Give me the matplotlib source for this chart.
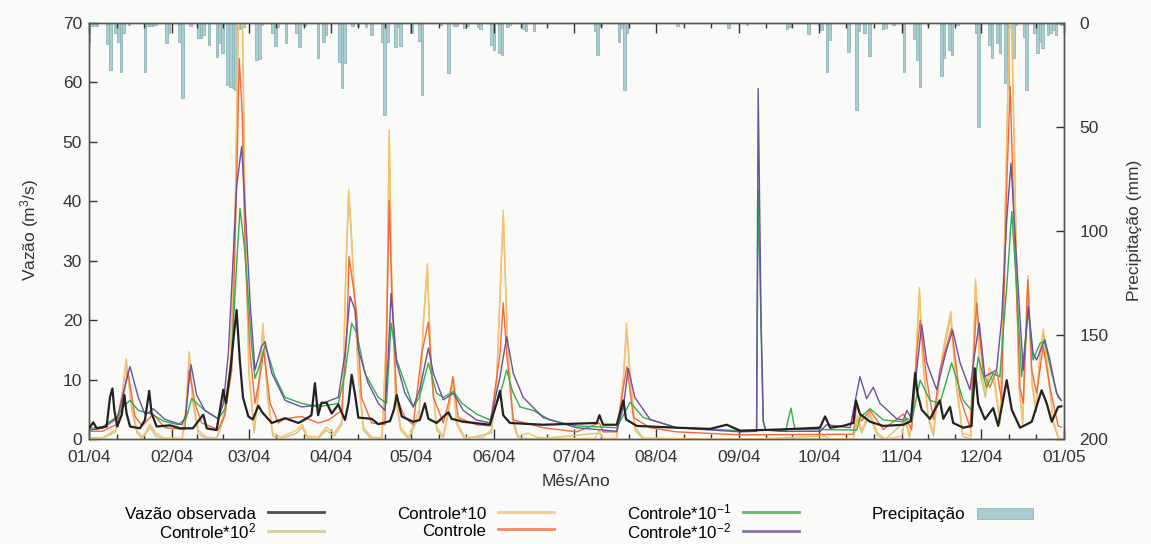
import matplotlib
matplotlib.use('Agg')
import matplotlib.pyplot as plt

plt.rcParams['font.family'] = ['Liberation Sans', 'DejaVu Sans']
plt.rcParams['mathtext.default'] = 'regular'

# Daily series for 2004, given as (day of year, value) points
obs = [(0, 1.8), (1.6, 2.8), (2.9, 1.8), (6.6, 2.1), (7.9, 7.1), (8.8, 8.5), (9.5, 4.9), (10.6, 2.1),
       (12.3, 4.1), (13.3, 7.4), (14.1, 4.3), (15.4, 2.1), (19.1, 1.8), (21, 3.2), (22.6, 8.1), (23.5, 4.3),
       (25.4, 2.1), (30.4, 2.3), (34.2, 1.8), (39, 1.8), (42.9, 4.1), (44.2, 1.8), (47.9, 1.5), (49.2, 5),
       (50.4, 8.3), (51.4, 6), (52.3, 9), (53.2, 12), (54.2, 16.7), (55.4, 21.7), (56.6, 13.3), (57.8, 7),
       (59.8, 3.8), (61.5, 3.3), (63.6, 5.6), (65, 4.5), (68.6, 2.7), (73.6, 3.5), (78.6, 2.7), (81.1, 3.3),
       (83.5, 4), (84.8, 9.4), (86, 4), (87.3, 6.1), (89.2, 6.1), (91.1, 4.3), (93.6, 5.8), (96.1, 3.2),
       (97.4, 6), (98.6, 10.8), (99.9, 7.4), (101.1, 3.6), (106.1, 3.4), (108.6, 2.5), (113, 3), (114.5, 5),
       (115.5, 7.4), (117.4, 3.8), (121.7, 2.9), (124.2, 3.2), (126.1, 6), (127.4, 3.4), (130.5, 2.7),
       (134.9, 4.5), (136.1, 3.4), (140.5, 2.9), (150.5, 2.4), (153, 6), (154.3, 8.1), (155.5, 4), (158, 2.7),
       (170.5, 2.4), (190.6, 2.7), (191.6, 4), (193, 2.4), (198.1, 2.4), (200.6, 6.5), (201.6, 3.3),
       (205.6, 2.2), (220.6, 1.9), (233.1, 1.7), (239.4, 2.4), (244.4, 1.4), (259.4, 1.6), (274.4, 1.9),
       (276.3, 3.8), (278.2, 1.9), (283.1, 2.2), (286.9, 2.7), (287.9, 6.5), (289.4, 4.2), (293.2, 2.9),
       (298.2, 2.2), (305.7, 2.4), (308.5, 3), (310.1, 11.1), (311, 7.7), (312.6, 4.9), (315.7, 3.4),
       (319.4, 6.5), (320.7, 3.4), (323.2, 5.4), (324.4, 2.7), (328.2, 1.9), (331.3, 2.2), (332.5, 11.9),
       (333.8, 6), (336.3, 3.3), (339.4, 5.2), (341.3, 2.2), (344.5, 9.9), (346.4, 4.9), (349.5, 1.9),
       (353.9, 2.9), (357.6, 8.2), (359.5, 6), (361.4, 2.9), (363.8, 5.4), (365, 5.5)]

c100 = [(0, 0.1), (5, 0.1), (10, 1.2), (12.5, 7.5), (14, 13), (16, 5), (18, 1), (20, 0.1), (23, 2), (25, 0.5),
        (28, 0), (35, 0), (36.5, 5), (37.6, 14), (39, 6), (41, 1), (44, 0), (48, 0), (51, 4), (53, 11), (55, 42),
        (56.3, 80), (57.5, 75), (58.5, 42), (60, 11), (62, 1), (63.5, 7), (65.3, 18.5), (67, 7), (69, 0.5),
        (72, 0), (78, 1), (80, 2), (82, 0.2), (86, 0), (89, 1.5), (92, 0.5), (95, 2.5), (96.5, 29), (97.5, 41),
        (98.5, 34), (99.5, 25), (101, 11), (103, 1.5), (106, 0), (110, 0), (111.8, 19), (112.7, 51),
        (113.5, 29), (115, 7), (117, 1.5), (120, 0), (124, 4), (125.5, 19), (127, 28.5), (128.5, 11),
        (130.5, 1.5), (133, 0.2), (135, 4.5), (136.6, 9.5), (138, 2.5), (141, 0), (151, 1), (153, 9),
        (155.5, 37.5), (157, 17), (159, 3), (161, 0.2), (168, 0), (191.6, 1), (193, 0), (198, 0), (200.5, 9),
        (201.8, 18.5), (203, 11), (205, 1.5), (208, 0), (287, 0), (288.5, 3.5), (290, 1), (293, 4), (296, 0.5),
        (299, 0), (306.5, 3), (308, 0.2), (309.5, 4.5), (311.7, 24.5), (313, 13), (315, 3.5), (317, 0.5),
        (319, 9), (321, 15), (323.5, 20.5), (325.5, 9), (328, 0.5), (331, 0), (332.8, 26), (334.5, 11),
        (336.5, 7), (338, 11), (340, 9), (342, 2.5), (343.5, 29), (345, 60), (346, 80), (347.5, 46), (349, 9),
        (350.5, 2.5), (352.5, 26.5), (354, 9), (355.5, 4.5), (357, 14), (358.3, 17.5), (360, 11), (362, 2.5),
        (364, 0), (365, 0)]

c10 = [(0, 0.3), (5, 0.2), (10, 1.5), (12.5, 8), (14, 13.5), (16, 6), (18, 1.5), (20, 0.3), (23, 2.5), (25, 1),
       (28, 0.2), (35, 0.1), (36.5, 6), (37.6, 14.7), (39, 7), (41, 1.5), (44, 0.3), (48, 0.2), (51, 5),
       (53, 12), (55, 40), (56.3, 75), (57.5, 72), (58.5, 40), (60, 12), (62, 2), (63.5, 8), (65.3, 19.5),
       (67, 8), (69, 1), (72, 0.3), (78, 1.5), (80, 2.5), (82, 0.5), (86, 0.3), (89, 2), (92, 1), (95, 3),
       (96.5, 30), (97.5, 42), (98.5, 35), (99.5, 26), (101, 12), (103, 2), (106, 0.3), (110, 0.2),
       (111.8, 20), (112.7, 52), (113.5, 30), (115, 8), (117, 2), (120, 0.3), (124, 5), (125.5, 20),
       (127, 29.5), (128.5, 12), (130.5, 2), (133, 0.5), (135, 5), (136.6, 10), (138, 3), (141, 0.3),
       (148, 0.3), (151, 1.5), (153, 10), (155.5, 38.5), (157, 18), (159, 4), (161, 0.5), (165, 1),
       (168, 0.3), (175, 0.1), (190, 0.1), (191.6, 1.5), (193, 0.1), (198, 0.1), (200.5, 10), (201.8, 19.5),
       (203, 12), (205, 2), (208, 0.2), (230, 0), (250, 0), (276, 0.5), (278, 0), (287, 0), (288.5, 4),
       (290, 1.5), (293, 4.5), (296, 1), (299, 0), (305, 0.5), (306.5, 3.5), (308, 0.5), (309.5, 5),
       (311.7, 25.5), (313, 14), (315, 4), (317, 1), (319, 10), (321, 16), (323.5, 21.5), (325.5, 10),
       (328, 1), (331, 0.5), (332.8, 27), (334.5, 12), (336.5, 8), (338, 12), (340, 10), (342, 3),
       (343.5, 30), (345, 60), (346, 75), (347.5, 45), (349, 10), (350.5, 3), (352.5, 27.5), (354, 10),
       (355.5, 5), (357, 15), (358.3, 18.5), (360, 12), (362, 3), (364, 0.3), (365, 0)]

c1 = [(0, 1.3), (5, 1.3), (10.6, 2.5), (12.5, 6), (14.5, 11.5), (17.3, 3.8), (20, 2.2), (24.1, 4.2),
      (28.5, 1.9), (36, 1.6), (37.6, 11.6), (39.8, 6), (42.3, 2.7), (48.5, 1.6), (51, 4), (53.6, 11.6),
      (55.4, 42.5), (56.4, 64), (57.5, 55), (58.6, 31), (60.5, 14.4), (62.3, 6), (64.8, 12.2), (65.5, 15),
      (68, 6), (71.1, 2.7), (73.6, 3.4), (79.8, 3.8), (86.1, 2.7), (89.9, 3.2), (94.9, 4.8), (96.8, 17.8),
      (97.6, 30.7), (99.2, 25.6), (100.5, 21), (102.3, 7), (106.1, 2.7), (111.1, 2.4), (112.3, 31.2),
      (112.7, 40.2), (113.6, 25.6), (115.5, 7), (118.6, 3.6), (121.7, 2.4), (124.9, 14.4), (127.4, 19.7),
      (129.3, 7), (133, 2.7), (134.9, 6), (136.6, 10.5), (138.6, 3.6), (145.5, 2.4), (150.5, 2.2),
      (154.3, 14.4), (155.5, 22.9), (156.8, 14.4), (159.3, 3.2), (170.5, 1.9), (183, 1.2), (191.6, 2.7),
      (193, 1.2), (198.1, 1.2), (200.6, 8.7), (201.9, 12.2), (204.4, 3.6), (210.6, 1.9), (220.6, 1.2),
      (244.4, 0.7), (286.9, 0.8), (288.2, 6), (290, 3), (293.2, 4.8), (298.2, 1.6), (305.7, 4.2),
      (308.8, 1.6), (310.7, 14.4), (312, 20), (314.5, 9.9), (317, 3.3), (319.4, 11.6), (323.8, 18.6),
      (327, 7), (330.7, 1.9), (333.2, 22.9), (335.7, 11), (338.2, 8.7), (340.7, 11.6), (342.6, 6.5),
      (344.5, 42.7), (345.8, 59.3), (347.6, 31.2), (349.5, 8.7), (350.7, 6), (352.4, 26.8), (353.9, 11.6),
      (355.7, 7.7), (358.2, 15.6), (360.7, 8.7), (363.8, 2.2), (365, 2)]

c01 = [(0, 1.8), (5, 2), (10.6, 3.8), (13, 5.5), (15.4, 6.5), (18.5, 4.8), (23.5, 4.2), (28, 3), (33.5, 2.4),
       (36.5, 3.5), (38.5, 6.8), (43.5, 4.8), (48.5, 3.4), (51, 5), (53.6, 14.4), (55.5, 30), (56.7, 38.8),
       (58.6, 31.2), (61.1, 15.6), (62.3, 10.2), (64.5, 13), (66.1, 15.8), (69.8, 10.5), (73.6, 7), (79.8, 6),
       (86.1, 5.4), (93.6, 6), (96.1, 11), (98.6, 19.5), (100.5, 17.8), (103.6, 11), (108.6, 7), (111.7, 6),
       (113.4, 19.5), (115.5, 13.3), (119.9, 7.7), (121.7, 5.4), (124, 7), (127.4, 12.8), (130.5, 7.7),
       (133, 7), (136.8, 8), (140, 6), (145.5, 4.2), (150.5, 3.2), (154, 7), (156.8, 11.6), (159, 8),
       (161.8, 5.4), (166.8, 4.8), (173, 3.2), (183, 2.2), (198.1, 1.9), (200.6, 4), (203.1, 6.2),
       (208.1, 3.6), (220.6, 1.9), (244.4, 1.4), (250.6, 1.4), (251.2, 42), (252.3, 18), (253.1, 3),
       (254, 1.5), (261.5, 1.4), (263.5, 5.2), (265, 1.6), (274.4, 1.6), (288.2, 1.5), (289.4, 3.6),
       (293.2, 5.1), (298.2, 3.2), (305.7, 2.9), (307, 3.5), (308.8, 3), (312, 9.9), (315.7, 6.5),
       (319.4, 6), (323.8, 12.8), (328.2, 6.5), (331.3, 4.8), (333.8, 13.8), (336.9, 8.7), (339.4, 11),
       (341.9, 10.5), (344.5, 25.6), (346.4, 38.3), (348.2, 25.6), (350.1, 10.5), (352.6, 21.7),
       (354.4, 13.3), (357, 16.1), (358.8, 16.4), (361.4, 11), (363.8, 7), (365, 6.5)]

c001 = [(0, 1.5), (5, 1.8), (10.6, 3.5), (13, 8), (15.4, 12.2), (18.5, 7), (21, 4.2), (22.5, 4.5), (24.1, 5.1),
        (28.5, 3.3), (34.8, 2.4), (36.3, 4), (37.3, 8.6), (38.3, 12.5), (40.4, 7.4), (43.5, 4.8), (48.5, 3.4),
        (50.5, 6), (52.3, 14.4), (54.2, 31.2), (55.4, 42.5), (57.3, 49.2), (59.2, 34), (60.5, 22.8),
        (62.3, 11.6), (64.8, 15.6), (66.1, 16.4), (68.6, 11.1), (73.6, 6.5), (79.8, 5.4), (86.1, 5.7),
        (91.1, 6.6), (93.6, 7), (96.1, 14.4), (98, 24), (99.9, 21.7), (101.1, 15), (104.8, 9.4), (108.6, 6),
        (111.1, 4.8), (112.3, 13.8), (113.4, 24.5), (115.5, 12.8), (118.6, 7.7), (121.7, 5.4), (124.2, 8.4),
        (127.4, 15.3), (129.3, 11), (133, 6.6), (136.8, 7.7), (140.5, 4.8), (145.5, 3.2), (150.5, 2.7),
        (154.3, 10.5), (156.8, 17.2), (159.3, 11), (163, 7), (170.5, 3.6), (183, 1.9), (198.1, 1.3),
        (200.6, 5.4), (202.4, 11.9), (204.9, 7), (210.6, 3.3), (220.6, 1.9), (244.4, 1.2), (250.6, 1.3),
        (251.2, 59), (252.3, 20), (253.1, 3), (254, 1.5), (259.4, 1.3), (274.4, 1.3), (276.9, 2.4),
        (285.7, 1.9), (287.2, 5.4), (289.4, 10.5), (291.9, 6.8), (294.4, 8.7), (296.9, 6), (303.2, 3.4),
        (305.7, 3.2), (307, 4.8), (308.8, 3.4), (310.7, 11.6), (312.6, 19.2), (314.5, 12.8), (318.2, 8.3),
        (321.9, 15), (324.2, 18.3), (327, 12.8), (330.7, 8.3), (332.5, 14.4), (334.2, 19.5), (336.3, 10.5),
        (338.2, 11), (340.7, 11.6), (342.6, 20.2), (344.5, 36.9), (346.1, 46.4), (347.6, 34.6),
        (349.5, 20.2), (350.7, 11.6), (352.6, 22.3), (354.4, 14.4), (355.7, 13.3), (358.8, 16.7),
        (360.7, 13.3), (363.2, 7.7), (365, 6.5)]

# daily rainfall (mm)
rain_day = [0, 1, 2, 3, 7, 8, 10, 11, 12, 13, 15, 21, 22, 23, 24, 25, 29, 30, 34, 35, 38, 41, 42, 43, 45, 48,
            49, 50, 52, 53, 54, 55, 56, 57, 58, 63, 64, 65, 69, 70, 71, 74, 78, 79, 81, 86, 88, 89, 94, 95, 96,
            99, 101, 104, 106, 110, 111, 112, 115, 116, 117, 121, 124, 125, 132, 135, 137, 138, 141, 142, 146,
            147, 151, 152, 154, 155, 157, 158, 163, 164, 167, 190, 191, 192, 199, 200, 201, 202, 221, 240, 247,
            262, 263, 270, 274, 275, 277, 278, 285, 288, 289, 291, 293, 298, 299, 302, 306, 310, 311, 312, 315,
            320, 321, 323, 324, 326, 333, 334, 338, 339, 341, 342, 344, 345, 347, 348, 351, 352, 355, 356, 357,
            358, 360, 361, 362, 363, 365]
rain_mm = [9, 1.5, 1.5, 1.5, 10, 22.6, 4.9, 9, 23.4, 5, 1, 23.4, 1.6, 1.5, 1.5, 1.2, 9.5, 5, 8.9, 36.2, 1.5,
           7, 7, 5.7, 10.6, 16.2, 9.8, 14.5, 30, 31, 31.4, 32, 3, 3, 2, 17.8, 17.5, 1, 5, 11, 2, 9.8, 4.9, 11.4,
           1.5, 17, 9, 5.7, 18.6, 31.4, 19.4, 1.5, 1.5, 1.8, 5.7, 9, 44, 9, 11.4, 1.8, 11, 4.9, 8.6, 34.6, 1,
           24, 1.5, 1.5, 2.6, 1.5, 1.8, 2.7, 10.8, 13, 14.5, 15.3, 2, 1, 3, 3.7, 3.7, 3.7, 15.3, 1.5, 8.9, 2.5,
           32, 4.9, 1.3, 2.5, 0.8, 3, 1.8, 5.3, 1, 3.5, 23.4, 8, 13.8, 41.8, 4, 4.9, 15.8, 3, 2.5, 0.8, 23.4,
           7.8, 17.8, 30.6, 1, 25.5, 17, 13, 15.4, 1, 4.9, 50, 10.6, 17, 9.8, 14.6, 28.7, 32, 17, 1, 6.6, 32,
           4.9, 14.6, 9, 12.2, 5.7, 4.9, 3.4, 5.7, 1]

month_start = [0, 31, 60, 91, 121, 152, 182, 213, 244, 274, 305, 335, 366]
month_labels = ['01/04', '02/04', '03/04', '04/04', '05/04', '06/04', '07/04',
                '08/04', '09/04', '10/04', '11/04', '12/04', '01/05']

series = [
    (c100, 'Controle*10$^{2}$', '#c9c488'),
    (c10, 'Controle*10', '#fbc06a'),
    (c1, 'Controle', '#f26a3c'),
    (c01, 'Controle*10$^{-1}$', '#2fb04c'),
    (c001, 'Controle*10$^{-2}$', '#6c4f9e'),
]

bg = '#fafaf8'
fig = plt.figure(figsize=(11.51, 5.44), dpi=100, facecolor=bg)
ax = fig.add_axes([89 / 1151, 1 - 439 / 544, 975 / 1151, 416 / 544])
ax2 = ax.twinx()
ax.set_zorder(ax2.get_zorder() + 1)
ax.patch.set_visible(False)
ax2.patch.set_facecolor(bg)

# precipitation hanging from the top
bars = ax2.bar(rain_day, rain_mm, width=1.0, color='#a9cdd1', edgecolor='#8cb6bb', linewidth=0.6,
               label='Precipitação')
ax2.set_ylim(200, 0)

x, y = zip(*obs)
h_obs, = ax.plot(x, y, color='#222222', lw=1.6, label='Vazão observada', zorder=5)
handles = [h_obs]
for data, name, col in series:
    x, y = zip(*data)
    h, = ax.plot(x, y, color=col, lw=1.0, label=name)
    handles.append(h)
handles.append(bars)

ax.set_xlim(0, 366)
ax.set_ylim(0, 70)
ax.set_xticks(month_start)
ax.set_xticklabels(month_labels)
minors = []
for a, b in zip(month_start[:-1], month_start[1:]):
    minors += [a + (b - a) / 3, a + 2 * (b - a) / 3]
ax.set_xticks(minors, minor=True)
ax.set_yticks(range(0, 71, 10))
ax2.set_yticks([0, 50, 100, 150, 200])

ax.tick_params(axis='x', which='major', direction='in', length=7, width=1, top=True, bottom=True,
               pad=8, labelsize=12.5, color='#333333', labelcolor='#333333')
ax.tick_params(axis='x', which='minor', direction='in', length=3.5, width=1, top=True, bottom=True,
               color='#333333')
ax.tick_params(axis='y', direction='in', length=6, width=1, pad=5, labelsize=12.5,
               color='#333333', labelcolor='#333333')
ax2.tick_params(axis='y', direction='in', length=6, width=1, pad=11, labelsize=12.5,
                color='#333333', labelcolor='#333333')
for a in (ax, ax2):
    for s in a.spines.values():
        s.set_color('#555555')
        s.set_linewidth(1.0)

fig.text(30 / 1151, 1 - 230 / 544, 'Vazão (m$^3$/s)', rotation=90, ha='center', va='center',
         fontsize=12.5, color='#333333')
fig.text(1135 / 1151, 1 - 230 / 544, 'Precipitação (mm)', rotation=90, ha='center', va='center',
         fontsize=12.5, color='#333333')
fig.text(576 / 1151, 1 - 482 / 544, 'Mês/Ano', ha='center', va='center', fontsize=12.5, color='#333333')

# taller handles so every legend row has the same height
leg = fig.legend(handles=handles, loc='center', bbox_to_anchor=(579 / 1151, 1 - 522 / 544), ncol=4,
                 frameon=False, markerfirst=False, fontsize=12.2, handlelength=3.3, handleheight=1.3,
                 labelspacing=-0.08, columnspacing=4.3, handletextpad=0.7, borderpad=0)
for ln in leg.get_lines():
    ln.set_linewidth(2.0)
    ln.set_alpha(0.8)
for p in leg.get_patches():
    p.set_height(p.get_height() * 0.6)
    p.set_y(p.get_y() + p.get_height() * 0.35)

fig.savefig('out.png', dpi=100, facecolor=bg)
